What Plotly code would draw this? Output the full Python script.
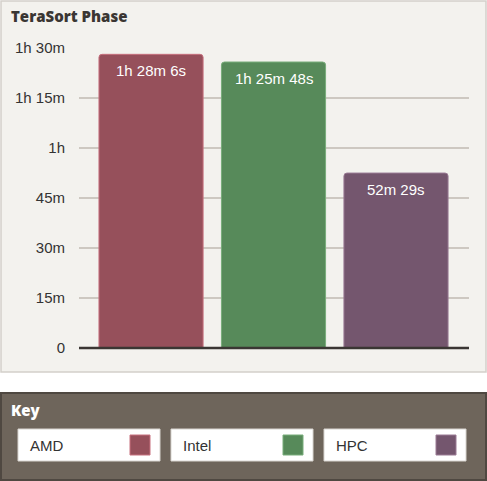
import plotly.graph_objects as go

categories = ["AMD", "Intel", "HPC"]
durations_s = [5286, 5148, 3149]  # 1h 28m 6s, 1h 25m 48s, 52m 29s
colors = ["#96505b", "#578a5a", "#74566e"]
border_colors = ["#c7707e", "#79ad7b", "#9a7a94"]
tick_vals = [0, 900, 1800, 2700, 3600, 4500, 5400]
tick_text = ["0", "15m", "30m", "45m", "1h", "1h 15m", "1h 30m"]
title = "TeraSort Phase"
key_title = "Key"


def fmt(s):
    h, r = divmod(s, 3600)
    m, sec = divmod(r, 60)
    parts = []
    if h:
        parts.append(f"{h}h")
    if m:
        parts.append(f"{m}m")
    if sec:
        parts.append(f"{sec}s")
    return " ".join(parts)


W, H = 487, 481
L, R, T, B = 79, 18, 48, 133
PW, PH = W - L - R, H - T - B


def xp(px):
    return (px - L) / PW


def yp(py):
    return (H - B - py) / PH


FONT = "Liberation Sans, Arial, sans-serif"
BOLD = "Open Sans, sans-serif"

fig = go.Figure()
fig.add_trace(go.Bar(
    x=categories,
    y=durations_s,
    width=0.85,
    marker=dict(color=colors, line=dict(color=border_colors, width=1), cornerradius=3),
    hoverinfo="skip",
    showlegend=False,
))

shapes = []
annotations = []
# value labels inside bar tops
for cat, v in zip(categories, durations_s):
    annotations.append(dict(text=fmt(v), x=cat, y=v, xref="x", yref="y",
                            yanchor="top", xanchor="center", yshift=-6,
                            showarrow=False,
                            font=dict(size=15, color="white", family=FONT)))
# chart panel
shapes.append(dict(type="rect", xref="paper", yref="paper", layer="below",
                   x0=xp(1), x1=xp(486), y0=yp(372), y1=yp(1),
                   fillcolor="#f3f2ee", line=dict(color="#d3d0ca", width=1.5)))
# baseline
shapes.append(dict(type="line", xref="paper", yref="paper", layer="above",
                   x0=0, x1=1, y0=0, y1=0, line=dict(color="#3a3633", width=2.5)))
annotations.append(dict(text=title, xref="paper", yref="paper",
                        x=xp(9), y=yp(16), xanchor="left", yanchor="middle",
                        showarrow=False,
                        font=dict(size=15, color="#3a3633", family=BOLD, weight=800)))

# key panel
shapes.append(dict(type="rect", xref="paper", yref="paper", layer="below",
                   x0=xp(1), x1=xp(486), y0=yp(480), y1=yp(393),
                   fillcolor="#6e655b", line=dict(color="#4f4841", width=2)))
annotations.append(dict(text=key_title, xref="paper", yref="paper",
                        x=xp(9), y=yp(410), xanchor="left", yanchor="middle",
                        showarrow=False,
                        font=dict(size=15, color="white", family=BOLD, weight=800)))
box_x = [18, 171, 324]
for i, cat in enumerate(categories):
    bx = box_x[i]
    shapes.append(dict(type="rect", xref="paper", yref="paper", layer="above",
                       x0=xp(bx), x1=xp(bx + 142), y0=yp(461), y1=yp(429),
                       fillcolor="white", line=dict(color="#d8d5d0", width=1)))
    shapes.append(dict(type="rect", xref="paper", yref="paper", layer="above",
                       x0=xp(bx + 112), x1=xp(bx + 132), y0=yp(455), y1=yp(435),
                       fillcolor=colors[i], line=dict(color=border_colors[i], width=1)))
    annotations.append(dict(text=cat, xref="paper", yref="paper",
                            x=xp(bx + 10), y=yp(445), xanchor="left", yanchor="middle",
                            showarrow=False, font=dict(size=15, color="#333333", family=FONT)))

fig.update_layout(
    width=W, height=H,
    margin=dict(l=L, r=R, t=T, b=B),
    paper_bgcolor="white",
    plot_bgcolor="rgba(0,0,0,0)",
    shapes=shapes,
    annotations=annotations,
    xaxis=dict(range=[-0.588, 2.596], showticklabels=False, showgrid=False,
               zeroline=False, showline=False, fixedrange=True),
    yaxis=dict(range=[0, 5400], tickvals=tick_vals, ticktext=tick_text,
               showgrid=True, gridcolor="#cdc8c1", gridwidth=2,
               zeroline=False, showline=False,
               ticks="outside", ticklen=10, tickcolor="rgba(0,0,0,0)",
               tickfont=dict(size=15, color="#333333", family=FONT),
               fixedrange=True),
    font=dict(family=FONT),
)

fig.write_html("out.html", config={"displayModeBar": False},
               post_script="document.body.style.margin='0';document.body.style.padding='0';")
